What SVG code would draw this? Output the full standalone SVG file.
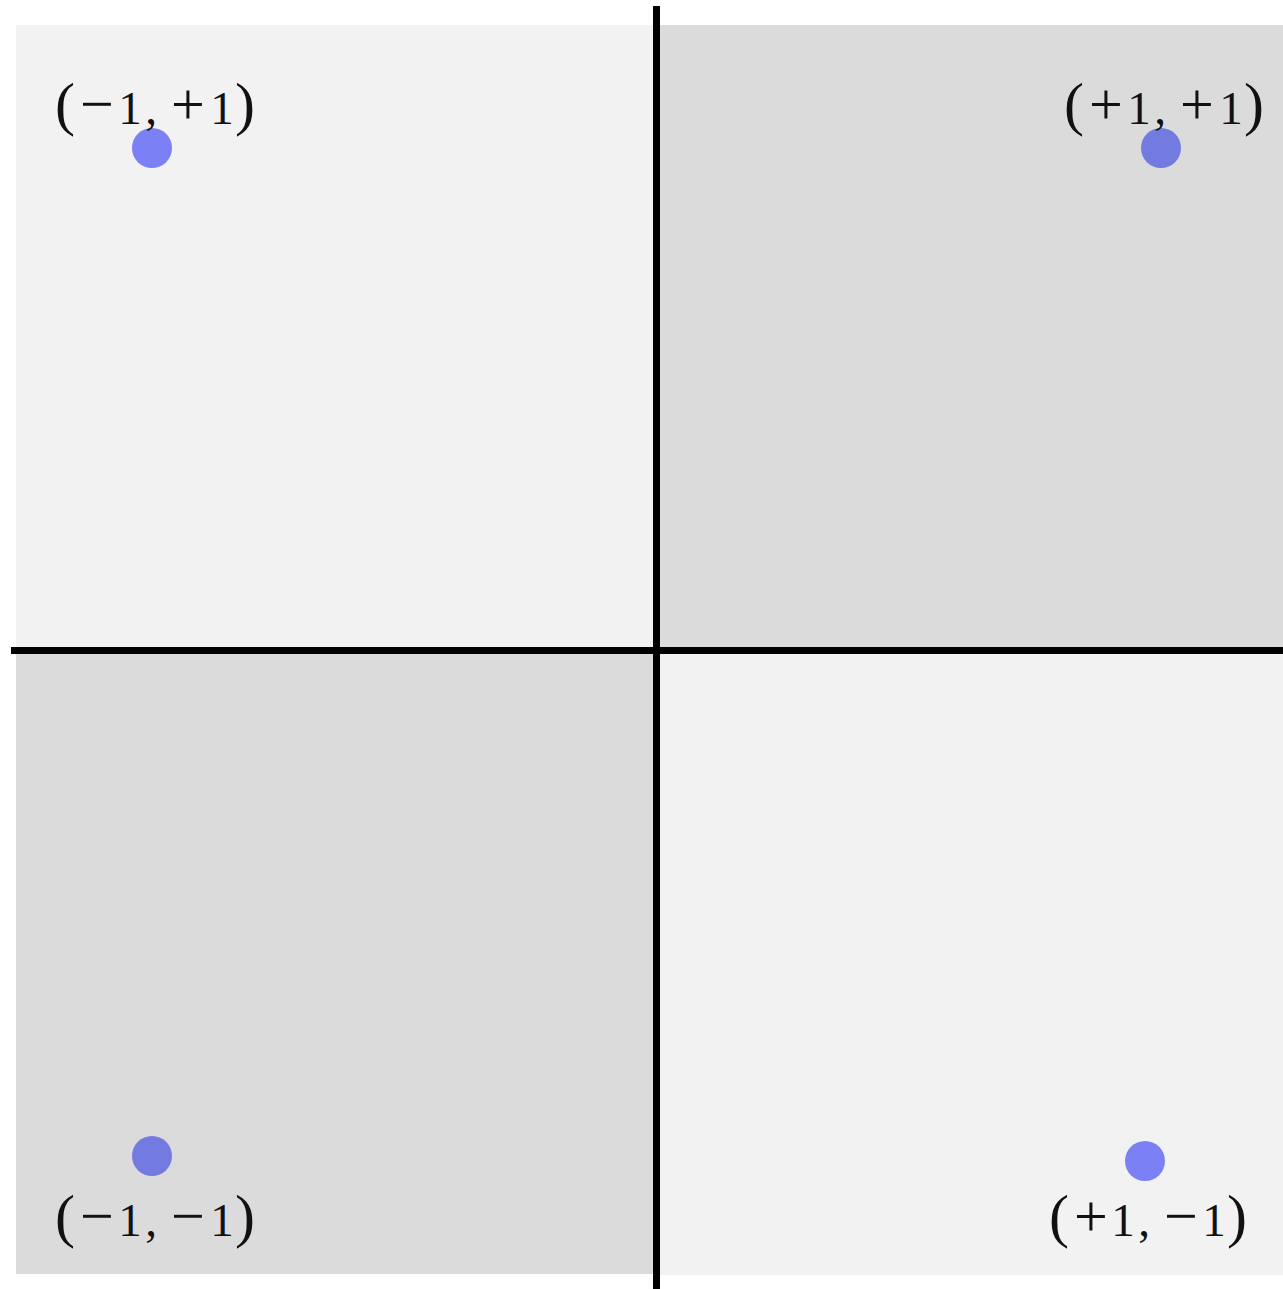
<svg xmlns="http://www.w3.org/2000/svg" width="1283" height="1289" viewBox="0 0 1283 1289">
<style>
.light{fill:#f2f2f2}
.dark{fill:#dbdbdb}
.axis{stroke:#000;stroke-width:7;fill:none}
.lbl{font-family:"Liberation Serif","DejaVu Serif",serif;font-size:47px;fill:#111;text-anchor:middle}
.op{font-size:60px}
.dl{fill:#7b81f5}
.dd{fill:#737be0}
</style>
<rect width="1283" height="1289" fill="#fff"/>
<g id="quadrants">
<rect class="light" x="16" y="25" width="640" height="625"/>
<rect class="dark" x="656" y="25" width="627" height="625"/>
<rect class="dark" x="16" y="650" width="640" height="624"/>
<rect class="light" x="656" y="650" width="627" height="625"/>
</g>
<g id="axes">
<line class="axis" x1="656.5" y1="6" x2="656.5" y2="1289"/>
<line class="axis" x1="11" y1="650.5" x2="1283" y2="650.5"/>
</g>
<g id="p-mp">
<circle class="dl" cx="152" cy="148" r="20"/>
<text class="lbl" y="124"><tspan class="op" x="65">(</tspan><tspan class="op" x="97">−</tspan><tspan x="130 151 160">1, </tspan><tspan class="op" x="188">+</tspan><tspan x="222">1</tspan><tspan class="op" x="245">)</tspan></text>
</g>
<g id="p-pp">
<circle class="dd" cx="1161" cy="148" r="20"/>
<text class="lbl" y="124"><tspan class="op" x="1074">(</tspan><tspan class="op" x="1106">+</tspan><tspan x="1139 1160 1169">1, </tspan><tspan class="op" x="1197">+</tspan><tspan x="1231">1</tspan><tspan class="op" x="1254">)</tspan></text>
</g>
<g id="p-mm">
<circle class="dd" cx="152" cy="1156" r="20"/>
<text class="lbl" y="1236"><tspan class="op" x="65">(</tspan><tspan class="op" x="97">−</tspan><tspan x="130 151 160">1, </tspan><tspan class="op" x="188">−</tspan><tspan x="222">1</tspan><tspan class="op" x="245">)</tspan></text>
</g>
<g id="p-pm">
<circle class="dl" cx="1145" cy="1161" r="20"/>
<text class="lbl" y="1236"><tspan class="op" x="1059">(</tspan><tspan class="op" x="1091">+</tspan><tspan x="1123 1144 1153">1, </tspan><tspan class="op" x="1181">−</tspan><tspan x="1214">1</tspan><tspan class="op" x="1237">)</tspan></text>
</g>
</svg>
